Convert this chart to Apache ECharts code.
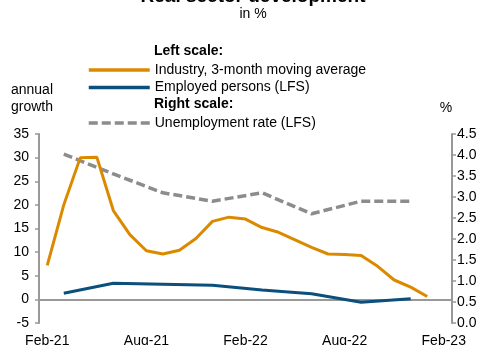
<!DOCTYPE html>
<html><head><meta charset="utf-8">
<script src="https://cdn.jsdelivr.net/npm/echarts@6/dist/echarts.min.js"></script>
<style>html,body{margin:0;padding:0;background:#fff}#c{width:486px;height:345px}</style>
</head><body><div id="c"></div>
<script>
const months = ['Feb-21','Mar-21','Apr-21','May-21','Jun-21','Jul-21','Aug-21','Sep-21','Oct-21','Nov-21','Dec-21','Jan-22','Feb-22','Mar-22','Apr-22','May-22','Jun-22','Jul-22','Aug-22','Sep-22','Oct-22','Nov-22','Dec-22','Jan-23','Feb-23'];
const industry = [7.2,20.0,30.0,30.1,18.8,13.7,10.3,9.6,10.4,12.9,16.5,17.4,17.0,15.2,14.2,12.6,11.0,9.6,9.5,9.3,7.0,4.1,2.6,0.6,null];
const employed = [null,1.3,null,null,3.4,null,null,3.2,null,null,3.0,null,null,2.0,null,null,1.2,null,null,-0.6,null,null,0.15,null,null];
const unemployment = [null,4.02,null,null,3.55,null,null,3.1,null,null,2.9,null,null,3.1,null,null,2.6,null,null,2.9,null,null,2.9,null,null];
const leftTicks = {min:-5, max:35, interval:5};
const rightTicks = {min:0, max:4.5, interval:0.5};

const FONT = 'Liberation Sans, Arial, sans-serif';
const chart = echarts.init(document.getElementById('c'), null, {renderer:'canvas'});
const axisGray = '#999999';
const legendText = {fontSize:14, color:'#000', fontFamily:FONT};
chart.setOption({
  animation:false,
  textStyle:{fontFamily:FONT},
  grid:{left:39, right:34, top:134, bottom:22, containLabel:false, outerBoundsMode:'none'},
  graphic:[
    {type:'text', x:253, y:-3, style:{text:'Real sector development', font:'bold 19px '+FONT, fill:'#000', textAlign:'center', textVerticalAlign:'middle'}},
    {type:'text', x:253, y:14, style:{text:'in %', font:'14px '+FONT, fill:'#000', textAlign:'center', textVerticalAlign:'middle'}},
    {type:'text', x:154, y:51, style:{text:'Left scale:', font:'bold 14px '+FONT, fill:'#000', textVerticalAlign:'middle'}},
    {type:'text', x:154, y:104, style:{text:'Right scale:', font:'bold 14px '+FONT, fill:'#000', textVerticalAlign:'middle'}},
    {type:'text', x:32, y:90, style:{text:'annual', font:'14px '+FONT, fill:'#000', textAlign:'center', textVerticalAlign:'middle'}},
    {type:'text', x:32, y:107, style:{text:'growth', font:'14px '+FONT, fill:'#000', textAlign:'center', textVerticalAlign:'middle'}},
    {type:'text', x:446, y:108, style:{text:'%', font:'14px '+FONT, fill:'#000', textAlign:'center', textVerticalAlign:'middle'}}
  ],
  legend:[
    {data:['Industry, 3-month moving average','Employed persons (LFS)'], orient:'vertical', left:82, top:58, itemWidth:61, itemHeight:14, itemGap:3.5, itemStyle:{opacity:0}, lineStyle:{width:3.5}, textStyle:legendText},
    {data:['Unemployment rate (LFS)'], orient:'vertical', left:82, top:111, itemWidth:61, itemHeight:14, itemGap:4, itemStyle:{opacity:0}, lineStyle:{width:3.5}, textStyle:legendText}
  ],
  xAxis:{type:'category', data:months, boundaryGap:true,
    axisLine:{show:false, onZero:false}, axisTick:{show:false},
    axisLabel:{interval:5, fontSize:14, color:'#000', margin:11, fontFamily:FONT},
    splitLine:{show:false}},
  yAxis:[
    {type:'value', position:'left', min:leftTicks.min, max:leftTicks.max, interval:leftTicks.interval,
      axisLine:{show:true, lineStyle:{color:axisGray, width:2}}, axisTick:{show:true, length:4, lineStyle:{color:axisGray, width:1.5}},
      axisLabel:{fontSize:14, color:'#000', margin:10, fontFamily:FONT}, splitLine:{show:false}},
    {type:'value', position:'right', min:rightTicks.min, max:rightTicks.max, interval:rightTicks.interval,
      axisLine:{show:true, lineStyle:{color:axisGray, width:2}}, axisTick:{show:true, length:4, lineStyle:{color:axisGray, width:1.5}},
      axisLabel:{fontSize:14, color:'#000', margin:5, fontFamily:FONT, formatter:v=>v.toFixed(1)}, splitLine:{show:false}}
  ],
  series:[
    {name:'Industry, 3-month moving average', type:'line', yAxisIndex:0, data:industry, symbol:'none', z:3,
      lineStyle:{color:'#DB8A00', width:3}, itemStyle:{color:'#DB8A00'},
      markLine:{silent:true, symbol:'none', label:{show:false}, lineStyle:{color:axisGray, type:'solid', width:2}, data:[{yAxis:0}], z:1}},
    {name:'Employed persons (LFS)', type:'line', yAxisIndex:0, data:employed, connectNulls:true, symbol:'none', z:4,
      lineStyle:{color:'#0B4F7D', width:3}, itemStyle:{color:'#0B4F7D'}},
    {name:'Unemployment rate (LFS)', type:'line', yAxisIndex:1, data:unemployment, connectNulls:true, symbol:'none', z:2,
      lineStyle:{color:'#8C8C8E', width:3.5, type:[9,4]}, itemStyle:{color:'#8C8C8E'}}
  ]
});
</script></body></html>
